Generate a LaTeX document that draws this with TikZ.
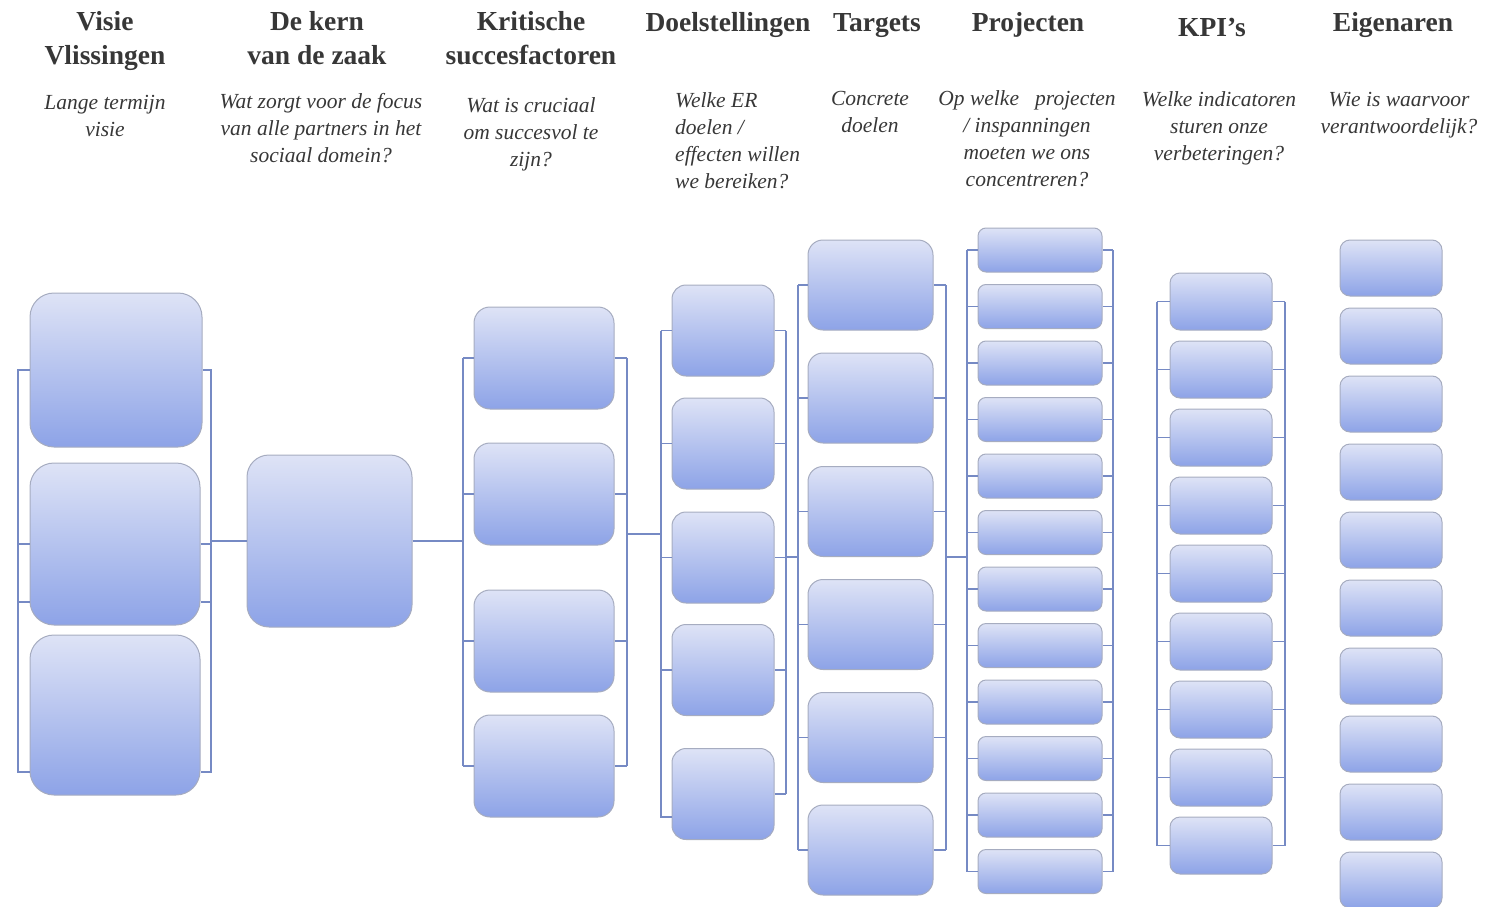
\documentclass[tikz,border=0pt]{standalone}
\usepackage{fontspec}
\setmainfont{Liberation Serif}
\usepackage{xcolor}
\usepackage{tikz}
\definecolor{boxtop}{RGB}{222,227,246}
\definecolor{boxbot}{RGB}{141,163,231}
\definecolor{boxrand}{RGB}{166,172,192}
\definecolor{lijn}{RGB}{118,138,196}
\definecolor{tekst}{RGB}{55,55,55}
\tikzstyle{blok} = [draw=boxrand,line width=1pt,top color=boxtop,bottom color=boxbot,inner sep=0pt]
\tikzstyle{link} = [draw=lijn,line width=1.2pt]
\tikzstyle{kop} = [text=tekst,font=\bfseries\fontsize{27.5}{34}\selectfont,align=center,anchor=base,inner sep=0pt]
\tikzstyle{vraag} = [text=tekst,font=\itshape\fontsize{21.5}{27}\selectfont,align=center,anchor=base,inner sep=0pt]

\begin{document}
\begin{tikzpicture}[x=1pt,y=-1pt]
            \useasboundingbox (0,0) rectangle (1486,907);
            % kopjes (anker op de onderste regel)
            \node[kop] (hvisie) at (105,65) {Visie\\Vlissingen};
            \node[kop] (hkern) at (317,65) {De kern\\van de zaak};
            \node[kop] (hkrit) at (531,65) {Kritische\\succesfactoren};
            \node[kop] (hdoel) at (728,32) {Doelstellingen};
            \node[kop] (htarg) at (877,32) {Targets};
            \node[kop] (hproj) at (1028,32) {Projecten};
            \node[kop] (hkpi) at (1212,37) {KPI’s};
            \node[kop] (heig) at (1393,32) {Eigenaren};
            % vragen
            \node[vraag] (qvisie) at (105,136) {Lange termijn\\visie};
            \node[vraag] (qkern) at (321,162) {Wat zorgt voor de focus\\van alle partners in het\\sociaal domein?};
            \node[vraag] (qkrit) at (531,166) {Wat is cruciaal\\om succesvol te\\zijn?};
            \node[vraag,align=left,anchor=base west] (qdoel) at (675,188) {Welke ER\\doelen /\\effecten willen\\we bereiken?};
            \node[vraag] (qtarg) at (870,132) {Concrete\\doelen};
            \node[vraag] (qproj) at (1027,186) {Op welke \ \ projecten\\/ inspanningen\\moeten we ons\\concentreren?};
            \node[vraag] (qkpi) at (1219,160) {Welke indicatoren\\sturen onze\\verbeteringen?};
            \node[vraag] (qeig) at (1399,133) {Wie is waarvoor\\verantwoordelijk?};

            % blokken
            \node[blok,rounded corners=24pt,minimum width=172pt,minimum height=154pt] (v1) at (116,370) {};
            \node[blok,rounded corners=24pt,minimum width=170pt,minimum height=162pt] (v2) at (115,544) {};
            \node[blok,rounded corners=24pt,minimum width=170pt,minimum height=160pt] (v3) at (115,715) {};
            \node[blok,rounded corners=22pt,minimum width=165pt,minimum height=172pt] (kern) at (329.5,541) {};
            \foreach \n/\y in {1/358,2/494,3/641,4/766}
                \node[blok,rounded corners=16pt,minimum width=140pt,minimum height=102pt] (k\n) at (544,\y) {};
            \foreach \n/\y in {1/330.5,2/443.5,3/557.5,4/670,5/794}
                \node[blok,rounded corners=14pt,minimum width=102pt,minimum height=91pt] (d\n) at (723,\y) {};
            \foreach \n/\y in {1/285,2/398,3/511.5,4/624.5,5/737.5,6/850}
                \node[blok,rounded corners=15pt,minimum width=125pt,minimum height=90pt] (t\n) at (870.5,\y) {};
            \foreach \n in {1,...,12}
                \node[blok,rounded corners=8pt,minimum width=124pt,minimum height=44pt] (p\n) at (1040,{250+(\n-1)*56.5}) {};
            \foreach \n in {1,...,9}
                \node[blok,rounded corners=10pt,minimum width=102pt,minimum height=57pt] (i\n) at (1221,{301.5+(\n-1)*68}) {};
            \foreach \n in {1,...,10}
                \node[blok,rounded corners=10pt,minimum width=102pt,minimum height=56pt] (e\n) at (1391,{268+(\n-1)*68}) {};

            % haken
            \coordinate (vL) at (18,0);   \coordinate (vR) at (211,0);
            \coordinate (kL) at (463,0);  \coordinate (kR) at (627,0);
            \coordinate (dL) at (661,0);  \coordinate (dR) at (786,0);
            \coordinate (tL) at (798,0);  \coordinate (tR) at (946,0);
            \coordinate (pL) at (967,0);  \coordinate (pR) at (1113,0);
            \coordinate (iL) at (1157,0); \coordinate (iR) at (1285,0);

            \draw[link] (v1.west) -- (v1.west -| vL) -- (vL |- 0,772) -- (v3.west |- 0,772);
            \draw[link] (v2.west) -- (v2.west -| vL);
            \draw[link] (v2.west |- 0,602) -- (vL |- 0,602);
            \draw[link] (v1.east) -- (v1.east -| vR) -- (vR |- 0,772) -- (v3.east |- 0,772);
            \draw[link] (v2.east) -- (v2.east -| vR);
            \draw[link] (v2.east |- 0,602) -- (vR |- 0,602);

            \foreach \n in {1,...,4} {
                \draw[link] (k\n.west) -- (k\n.west -| kL);
                \draw[link] (k\n.east) -- (k\n.east -| kR);
            }
            \draw[link] (k1.west -| kL) -- (k4.west -| kL);
            \draw[link] (k1.east -| kR) -- (k4.east -| kR);

            \foreach \n in {1,...,4}
                \draw[link] (d\n.west) -- (d\n.west -| dL);
            \draw[link] (d5.west |- 0,817) -- (dL |- 0,817) -- (d1.west -| dL);
            \foreach \n in {1,...,5}
                \draw[link] (d\n.east) -- (d\n.east -| dR);
            \draw[link] (d1.east -| dR) -- (d5.east -| dR);

            \foreach \n in {1,...,6} {
                \draw[link] (t\n.west) -- (t\n.west -| tL);
                \draw[link] (t\n.east) -- (t\n.east -| tR);
            }
            \draw[link] (t1.west -| tL) -- (t6.west -| tL);
            \draw[link] (t1.east -| tR) -- (t6.east -| tR);

            \foreach \n in {1,...,12} {
                \draw[link] (p\n.west) -- (p\n.west -| pL);
                \draw[link] (p\n.east) -- (p\n.east -| pR);
            }
            \draw[link] (p1.west -| pL) -- (p12.west -| pL);
            \draw[link] (p1.east -| pR) -- (p12.east -| pR);

            \foreach \n in {1,...,9} {
                \draw[link] (i\n.west) -- (i\n.west -| iL);
                \draw[link] (i\n.east) -- (i\n.east -| iR);
            }
            \draw[link] (i1.west -| iL) -- (i9.west -| iL);
            \draw[link] (i1.east -| iR) -- (i9.east -| iR);

            % verbindingen
            \draw[link] (vR |- kern.west) -- (kern.west);
            \draw[link] (kern.east) -- (kL |- kern.east);
            \draw[link] (kR |- 0,534) -- (dL |- 0,534);
            \draw[link] (dR |- 0,557) -- (tL |- 0,557);
            \draw[link] (tR |- 0,557) -- (pL |- 0,557);
        \end{tikzpicture}
\end{document}
